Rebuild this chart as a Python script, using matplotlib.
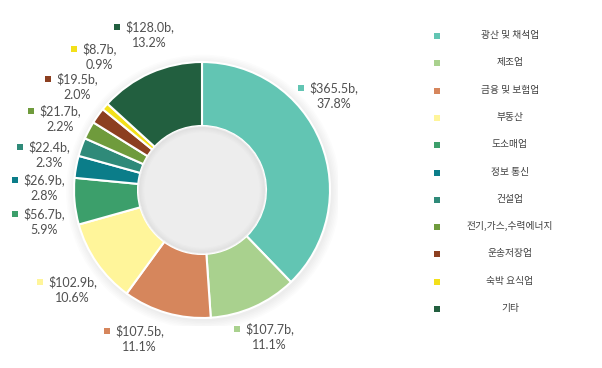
import matplotlib
matplotlib.use('Agg')
import matplotlib.pyplot as plt
from matplotlib.patches import Rectangle, Circle, Wedge

plt.rcParams['font.family'] = ['Lato', 'Noto Sans CJK KR', 'DejaVu Sans']

categories = ['광산 및 채석업', '제조업', '금융 및 보험업', '부동산', '도소매업', '정보 통신',
              '건설업', '전기,가스,수력에너지', '운송저장업', '숙박 요식업', '기타']
values = [365.5, 107.7, 107.5, 102.9, 56.7, 26.9, 22.4, 21.7, 19.5, 8.7, 128.0]
shares = [37.8, 11.1, 11.1, 10.6, 5.9, 2.8, 2.3, 2.2, 2.0, 0.9, 13.2]
colors = ['#62c5b3', '#a9d18e', '#d6865c', '#fff59a', '#3c9f6b', '#0b7d89',
          '#2f8a79', '#6f9b3c', '#8c3f20', '#f3e01a', '#225f3f']

# label marker positions in pixels (x, y from top)
label_pos = [(301, 88), (237, 329), (107, 331), (40, 282), (15, 214), (15, 180),
             (20, 147), (31, 111), (48, 79), (74, 49), (117, 27)]

W, H = 602, 368
fig = plt.figure(figsize=(W / 100, H / 100), dpi=100)
cx, cy, R = 202, 190, 128
pad = 1.06
ax = fig.add_axes([(cx - R * pad) / W, (H - cy - R * pad) / H, 2 * R * pad / W, 2 * R * pad / H])

# soft shadow around the ring
for k in range(6):
    ax.add_patch(Circle((0.01, -0.015), 1.0 + 0.012 * (6 - k), color='#000000',
                        alpha=0.01, lw=0, zorder=0))

ax.pie(values, colors=colors, startangle=90, counterclock=False, radius=1,
       wedgeprops=dict(width=0.5, edgecolor='white', linewidth=1.5))

# inner shadow in the hole
for k in range(5):
    ax.add_patch(Wedge((0, 0), 0.5, 0, 360, width=0.01 * (k + 1), color='#000000',
                       alpha=0.012, lw=0, zorder=5))

ax.set_xlim(-pad, pad)
ax.set_ylim(-pad, pad)
ax.set_aspect('equal')
ax.axis('off')

# data labels
for (px, py), v, s, c in zip(label_pos, values, shares, colors):
    fig.add_artist(Rectangle(((px - 3) / W, (H - py - 3) / H), 6 / W, 6 / H,
                             transform=fig.transFigure, facecolor=c, edgecolor='none'))
    fig.text((px + 8) / W, (H - py + 7) / H, f'${v:.1f}b,\n{s:.1f}%', ha='left', va='top',
             multialignment='center', fontsize=9, color='#505050', linespacing=1.45)

# legend
for i, (cat, c) in enumerate(zip(categories, colors)):
    y = 36 + i * 27.3
    fig.add_artist(Rectangle((434 / W, (H - y - 3) / H), 6 / W, 6 / H,
                             transform=fig.transFigure, facecolor=c, edgecolor='none'))
    fig.text(510 / W, (H - y + 1) / H, cat, ha='center', va='center', fontsize=7,
             color='#404040', family=['Noto Sans CJK KR', 'DejaVu Sans'])

fig.savefig('out.png', dpi=100, facecolor='white')
